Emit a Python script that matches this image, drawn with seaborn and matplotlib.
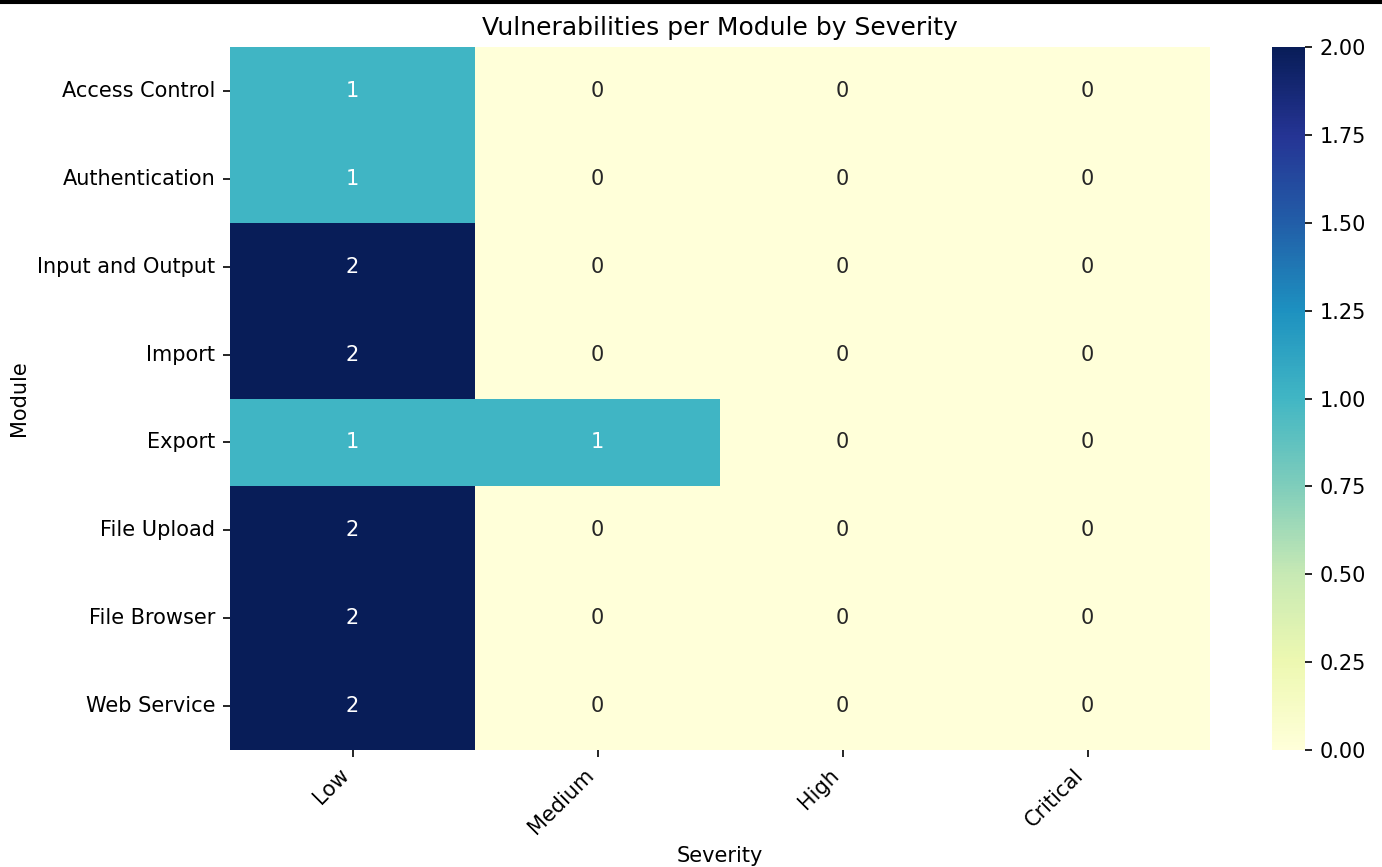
import numpy as np
import pandas as pd
import matplotlib
matplotlib.use("Agg")
import matplotlib.pyplot as plt
import seaborn as sns

modules = ["Access Control", "Authentication", "Input and Output", "Import",
           "Export", "File Upload", "File Browser", "Web Service"]
severities = ["Low", "Medium", "High", "Critical"]
low = [1, 1, 2, 2, 1, 2, 2, 2]
medium = [0, 0, 0, 0, 1, 0, 0, 0]
high = [0, 0, 0, 0, 0, 0, 0, 0]
critical = [0, 0, 0, 0, 0, 0, 0, 0]

counts = pd.DataFrame({"Low": low, "Medium": medium, "High": high, "Critical": critical},
                      index=modules)[severities]
counts.index.name = "Module"
counts.columns.name = "Severity"

DPI = 150
fig = plt.figure(figsize=(1382 / DPI, 867 / DPI), dpi=DPI)
ax = fig.add_axes([230 / 1382, 1 - 750 / 867, 980 / 1382, 703 / 867])
cax = fig.add_axes([1272 / 1382, 1 - 750 / 867, 33 / 1382, 703 / 867])

sns.heatmap(counts, annot=True, fmt="d", cmap="YlGnBu", ax=ax, cbar_ax=cax)
ax.set_title("Vulnerabilities per Module by Severity")
ax.set_xlabel("Severity")
ax.set_ylabel("Module")
plt.setp(ax.get_xticklabels(), rotation=45, ha="right", rotation_mode="default")
plt.setp(ax.get_yticklabels(), rotation=0)

# dark rule along the top edge of the canvas
fig.add_artist(plt.Rectangle((0, 1 - 3 / 867), 1, 3 / 867, transform=fig.transFigure,
                             color="black", zorder=10))

fig.savefig("out.png", dpi=DPI)
